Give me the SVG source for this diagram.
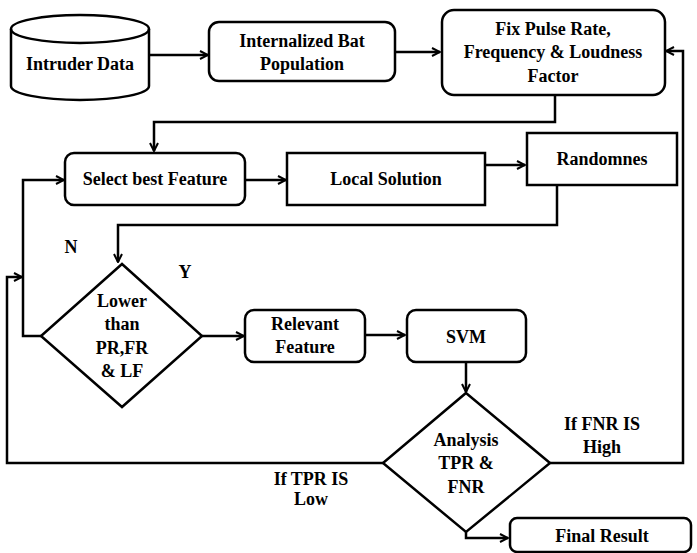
<svg xmlns="http://www.w3.org/2000/svg" width="697" height="553" viewBox="0 0 697 553">
  <style>
    .shape { fill: #ffffff; stroke: #000000; stroke-width: 2.5; }
    .wire { fill: none; stroke: #000000; stroke-width: 2.5; }
    .t { font-family: 'Liberation Serif', 'Times New Roman', Tinos, 'DejaVu Serif', serif; font-weight: bold; font-size: 18px; fill: #000000; text-anchor: middle; }
  </style>
  <defs>
    <marker id="arrow" viewBox="0 0 10 10" refX="9" refY="5" markerWidth="10" markerHeight="10" markerUnits="userSpaceOnUse" orient="auto">
      <path d="M1,1 L9,5 L1,9" fill="none" stroke="#000000" stroke-width="2"/>
    </marker>
  </defs>
  <rect width="697" height="553" fill="#ffffff"/>

  <g id="connectors">
    <path class="wire" d="M149,55 H208" marker-end="url(#arrow)"/>
    <path class="wire" d="M395,52 H440" marker-end="url(#arrow)"/>
    <path class="wire" d="M555,95 V122 H154 V151" marker-end="url(#arrow)"/>
    <path class="wire" d="M245,180 H286" marker-end="url(#arrow)"/>
    <path class="wire" d="M485,165 H525" marker-end="url(#arrow)"/>
    <path class="wire" d="M557,185 V225 H118 V262" marker-end="url(#arrow)"/>
    <path class="wire" d="M41,336 H23 V180 H64" marker-end="url(#arrow)"/>
    <path class="wire" d="M383,463 H7 V277 H22" marker-end="url(#arrow)"/>
    <path class="wire" d="M202,336 H244" marker-end="url(#arrow)"/>
    <path class="wire" d="M365,335 H405" marker-end="url(#arrow)"/>
    <path class="wire" d="M466,362 V392" marker-end="url(#arrow)"/>
    <path class="wire" d="M550,463 H683 V51 H666" marker-end="url(#arrow)"/>
    <path class="wire" d="M466,532 V538 H508" marker-end="url(#arrow)"/>
  </g>

  <g id="intruder-data">
    <path class="shape" d="M11,29 V86 A69,14 0 0 0 149,86 V29 A69,14 0 0 0 11,29 Z"/>
    <path class="wire" d="M11,29 A69,14 0 0 0 149,29"/>
    <text class="t" x="80" y="70">Intruder Data</text>
  </g>

  <g id="bat-population">
    <rect class="shape" x="209" y="22" width="186" height="59" rx="10"/>
    <text class="t" x="302" y="47">Internalized Bat</text>
    <text class="t" x="302" y="70">Population</text>
  </g>

  <g id="fix-factors">
    <rect class="shape" x="442" y="10" width="223" height="85" rx="12"/>
    <text class="t" x="553" y="35">Fix Pulse Rate,</text>
    <text class="t" x="553" y="58">Frequency &amp; Loudness</text>
    <text class="t" x="553" y="82">Factor</text>
  </g>

  <g id="select-feature">
    <rect class="shape" x="65" y="153" width="180" height="52" rx="9"/>
    <text class="t" x="155" y="185">Select best Feature</text>
  </g>

  <g id="local-solution">
    <rect class="shape" x="287" y="153" width="198" height="52"/>
    <text class="t" x="386" y="185">Local Solution</text>
  </g>

  <g id="randomnes">
    <rect class="shape" x="527" y="133" width="150" height="52"/>
    <text class="t" x="602" y="165">Randomnes</text>
  </g>

  <g id="threshold-check">
    <path class="shape" d="M122,264 L202,336 L122,407 L41,336 Z"/>
    <text class="t" x="122" y="307">Lower</text>
    <text class="t" x="122" y="330">than</text>
    <text class="t" x="122" y="354">PR,FR</text>
    <text class="t" x="122" y="377">&amp; LF</text>
  </g>

  <g id="relevant-feature">
    <rect class="shape" x="245" y="310" width="120" height="52" rx="9"/>
    <text class="t" x="305" y="330">Relevant</text>
    <text class="t" x="305" y="353">Feature</text>
  </g>

  <g id="svm">
    <rect class="shape" x="407" y="310" width="119" height="52" rx="9"/>
    <text class="t" x="466" y="343">SVM</text>
  </g>

  <g id="analysis">
    <path class="shape" d="M466,393 L550,463 L466,532 L383,463 Z"/>
    <text class="t" x="466" y="446">Analysis</text>
    <text class="t" x="466" y="469">TPR &amp;</text>
    <text class="t" x="466" y="493">FNR</text>
  </g>

  <g id="final-result">
    <rect class="shape" x="510" y="518" width="181" height="34" rx="7"/>
    <text class="t" x="602" y="542">Final Result</text>
  </g>

  <g id="labels">
    <text class="t" x="71" y="253">N</text>
    <text class="t" x="185" y="278">Y</text>
    <text class="t" x="602" y="430">If FNR IS</text>
    <text class="t" x="602" y="453">High</text>
    <text class="t" x="311" y="485">If TPR IS</text>
    <text class="t" x="311" y="505">Low</text>
  </g>
</svg>
